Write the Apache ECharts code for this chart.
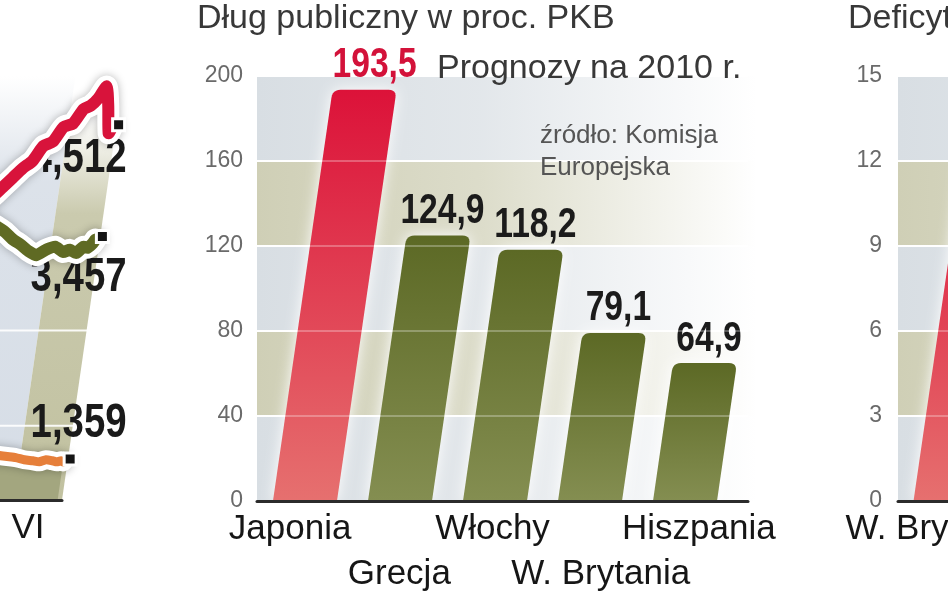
<!DOCTYPE html>
<html><head><meta charset="utf-8">
<script src="https://cdn.jsdelivr.net/npm/echarts@6/dist/echarts.min.js"></script>
<style>html,body{margin:0;padding:0;background:#fff}#c{width:948px;height:593px}</style>
</head><body><div id="c"></div>
<script>
// ---- middle chart: public debt, % of GDP, forecasts for 2010
const debtCountries = ['Japonia', 'Grecja', 'Włochy', 'W. Brytania', 'Hiszpania'];
const debtValues = [193.5, 124.9, 118.2, 79.1, 64.9];
const debtTicks = [0, 40, 80, 120, 160, 200];

// ---- right chart (cropped at the frame edge): deficit, % of GDP
const deficitCountries = ['W. Brytania'];
const deficitValues = [12.9];
const deficitTicks = [0, 3, 6, 9, 12, 15];

// ---- left chart (cropped at the frame edge): three daily series
const leftMonths = ['VI'];
const leftDays = [0, 4, 8, 12, 16, 20, 24, 28, 32, 36, 40, 44, 47, 50, 53, 55, 57, 58];
const redSeries = [3.72, 3.80, 3.86, 3.95, 4.04, 4.13, 4.20, 4.34, 4.38, 4.52, 4.55, 4.69, 4.72, 4.79, 4.90, 4.72, 4.46, 4.512];
const oliveSeries = [3.72, 3.68, 3.63, 3.58, 3.53, 3.46, 3.41, 3.35, 3.31, 3.36, 3.39, 3.34, 3.36, 3.33, 3.39, 3.38, 3.42, 3.457];
const orangeSeries = [1.47, 1.46, 1.45, 1.45, 1.44, 1.43, 1.43, 1.42, 1.41, 1.40, 1.38, 1.37, 1.36, 1.38, 1.37, 1.36, 1.37, 1.359];
const leftGridValues = [1.7, 2.6];

const FONT = 'Liberation Sans';
const SHEAR = 0.145;
const G = echarts.graphic;
// horizontal nudges of the staggered category labels (px, negative = left)
const debtLabelShift = [-16, -5, -10, 0, 0];

function quad(p0, c, p1, n, out) {
  for (let k = 1; k <= n; k++) {
    const t = k / n, a = (1 - t) * (1 - t), b = 2 * (1 - t) * t, d = t * t;
    out.push([a * p0[0] + b * c[0] + d * p1[0], a * p0[1] + b * c[1] + d * p1[1]]);
  }
}
function slantBar(bx, by, ty, hw, r) {
  const h = by - ty, dx = SHEAR * h;
  const tl = [bx - hw + dx, ty], tr = [bx + hw + dx, ty];
  const rr = Math.min(r, h / 2);
  const pts = [[bx - hw, by], [bx + hw, by]];
  const trDown = [tr[0] - SHEAR * rr, ty + rr];
  pts.push(trDown);
  quad(trDown, tr, [tr[0] - rr, ty], 6, pts);
  pts.push([tl[0] + rr, ty]);
  quad([tl[0] + rr, ty], tl, [tl[0] - SHEAR * rr, ty + rr], 6, pts);
  return pts;
}
function fadeGrad(x0, rgb) {
  return new G.LinearGradient(x0, 0, x0 + 500, 0, [
    { offset: 0, color: 'rgba(' + rgb + ',1)' },
    { offset: 0.45, color: 'rgba(' + rgb + ',0.72)' },
    { offset: 1, color: 'rgba(' + rgb + ',0)' }
  ], true);
}
const GREY = '216,222,227', KHAKI = '207,207,182';

// condensed bold numbers: Liberation Sans Bold squeezed horizontally
function narrowText(text, x, y, size, color, align, vAlign) {
  return {
    type: 'text', x: x, y: y, scaleX: 0.8, scaleY: 1,
    style: { text: text, x: 0, y: 0, align: align, verticalAlign: vAlign,
      fontFamily: FONT, fontWeight: 'bold', fontSize: size, fill: color }
  };
}

function bandSeries(xi, yi, ticks) {
  return {
    type: 'custom', xAxisIndex: xi, yAxisIndex: yi, z: 0, silent: true, clip: false,
    data: ticks.slice(0, -1).map(t => [0, t]),
    renderItem: function (params, api) {
      const k = params.dataIndex, cs = params.coordSys;
      const y0 = api.coord([0, ticks[k]])[1], y1 = api.coord([0, ticks[k + 1]])[1];
      return {
        type: 'rect', shape: { x: cs.x, y: y1, width: cs.width + 60, height: y0 - y1 },
        style: { fill: fadeGrad(cs.x, k % 2 ? KHAKI : GREY) }
      };
    }
  };
}
function overlaySeries(xi, yi, ticks) {
  return {
    type: 'custom', xAxisIndex: xi, yAxisIndex: yi, z: 3, silent: true, clip: false,
    data: ticks.slice(1, -1).map(t => [0, t]),
    renderItem: function (params, api) {
      const cs = params.coordSys, y = api.coord([0, api.value(1)])[1];
      return { type: 'line', shape: { x1: cs.x, y1: y, x2: cs.x + cs.width + 60, y2: y },
        style: { stroke: 'rgba(255,255,255,0.28)', lineWidth: 2 } };
    }
  };
}
function barSeries(xi, yi, values, withLabels) {
  return {
    type: 'custom', xAxisIndex: xi, yAxisIndex: yi, z: 2, silent: true, clip: false,
    data: values.map((v, i) => [i, v]),
    renderItem: function (params, api) {
      const i = api.value(0), v = api.value(1);
      const b = api.coord([i, 0]), t = api.coord([i, v]);
      const hi = params.dataIndex === 0;
      const pts = slantBar(b[0], b[1], t[1], 32, 8);
      const fill = hi
        ? new G.LinearGradient(0, 0, 0, 1, [{ offset: 0, color: '#dc1239' }, { offset: 1, color: '#e6706f' }])
        : new G.LinearGradient(0, 0, 0, 1, [{ offset: 0, color: '#5c6925' }, { offset: 1, color: '#848e51' }]);
      const children = [{
        type: 'polygon', shape: { points: pts },
        style: { fill: fill, shadowBlur: 14, shadowColor: 'rgba(255,255,255,1)' }
      }];
      if (withLabels) {
        const topCx = b[0] + SHEAR * (b[1] - t[1]);
        children.push(narrowText(v.toFixed(1).replace('.', ','), topCx + (hi ? 10 : 4), t[1] - 3, 42,
          hi ? '#d3123a' : '#1b1b1b', 'center', 'bottom'));
      }
      return { type: 'group', children: children };
    }
  };
}

// ---- left chart pieces
const leftLines = [
  { vals: orangeSeries, color: '#e67f3a', width: 9, labelDy: -38 },
  { vals: oliveSeries, color: '#5f6a23', width: 12, labelDy: 38 },
  { vals: redSeries, color: '#d8133b', width: 12, labelDy: 31 }
];
function shear(p, y0) { return [p[0] + SHEAR * (y0 - p[1]), p[1]]; }

const leftBackground = {
  type: 'custom', xAxisIndex: 1, yAxisIndex: 0, z: 0, silent: true, clip: false,
  data: [[40, 1]],
  renderItem: function (params, api) {
    const y0 = api.coord([40, 1])[1];
    function col(d0, d1, vTop, rgb) {
      const a = api.coord([d0, 1]), b = api.coord([d1, 1]), c = api.coord([d1, vTop]), d = api.coord([d0, vTop]);
      return {
        type: 'polygon', shape: { points: [shear(a, y0), shear(b, y0), shear(c, y0), shear(d, y0)] },
        style: { fill: new G.LinearGradient(0, 0, 0, 1, [
          { offset: 0, color: 'rgba(' + rgb + ',0)' },
          { offset: 0.25, color: 'rgba(' + rgb + ',0.85)' },
          { offset: 1, color: 'rgba(' + rgb + ',1)' }]) }
      };
    }
    const cs = params.coordSys;
    const children = [col(0, 38, 5, '214,221,230'), col(38, 60, 4.6, '193,193,160')];
    leftGridValues.forEach(g => {
      const y = api.coord([40, g])[1];
      children.push({ type: 'line', shape: { x1: 0, y1: y, x2: cs.x + cs.width + 30, y2: y },
        style: { stroke: 'rgba(255,255,255,0.9)', lineWidth: 2 } });
    });
    return { type: 'group', children: children };
  }
};
const leftLabels = {
  type: 'custom', xAxisIndex: 1, yAxisIndex: 0, z: 1, silent: true, clip: false,
  data: leftLines.map(l => [leftDays[leftDays.length - 1], l.vals[l.vals.length - 1]]),
  renderItem: function (params, api) {
    const p = api.coord([api.value(0), api.value(1)]);
    return narrowText(api.value(1).toFixed(3).replace('.', ','), p[0] + 69,
      p[1] + leftLines[params.dataIndex].labelDy, 48, '#1a1a1a', 'right', 'middle');
  }
};
const leftLineSeries = leftLines.map((l, li) => ({
  type: 'custom', xAxisIndex: 1, yAxisIndex: 0, z: 2 + li * 0.1, silent: true, clip: false,
  data: leftDays.map((d, k) => [d, l.vals[k]]),
  renderItem: function (params, api) {
    if (params.dataIndex !== leftDays.length - 1) return null;
    const y0 = api.coord([40, 1])[1];
    const pts = leftDays.map((d, k) => shear(api.coord([d, l.vals[k]]), y0));
    const end = pts[pts.length - 1];
    const children = [];
    if (li === 0) {
      const area = pts.concat([shear(api.coord([leftDays[leftDays.length - 1], 1]), y0), shear(api.coord([leftDays[0], 1]), y0)]);
      children.push({ type: 'polygon', shape: { points: area }, style: { fill: '#a3a67f' } });
    }
    children.push({ type: 'polyline', shape: { points: pts, smooth: 0.2 },
      style: { stroke: '#ffffff', lineWidth: l.width + 10, fill: null, lineJoin: 'round', lineCap: 'round',
        shadowBlur: 8, shadowColor: 'rgba(0,0,0,0.28)' } });
    children.push({ type: 'polyline', shape: { points: pts, smooth: 0.2 },
      style: { stroke: l.color, lineWidth: l.width, fill: null, lineJoin: 'round', lineCap: 'round' } });
    children.push({ type: 'rect', shape: { x: end[0] + 1, y: end[1] - 9, width: 12, height: 12 },
      style: { fill: '#151515', stroke: '#ffffff', lineWidth: 3 } });
    return { type: 'group', children: children };
  }
}));

const catLabel = {
  interval: 0, fontFamily: FONT, fontSize: 35, color: '#161616', margin: 6, lineHeight: 45
};
const valLabel = { fontFamily: FONT, fontSize: 23, color: '#6a6a6a' };

const chart = echarts.init(document.getElementById('c'));
chart.setOption({
  animation: false,
  backgroundColor: '#ffffff',
  title: [
    { text: 'Dług publiczny w proc. PKB', left: 197, top: 2, padding: 0,
      textStyle: { fontFamily: FONT, fontSize: 34, fontWeight: 'normal', color: '#383838' } },
    { text: 'Prognozy na 2010 r.', left: 437, top: 52, padding: 0,
      textStyle: { fontFamily: FONT, fontSize: 34, fontWeight: 'normal', color: '#383838' } },
    { text: 'źródło: Komisja\nEuropejska', left: 540, top: 120, padding: 0,
      textStyle: { fontFamily: FONT, fontSize: 26, fontWeight: 'normal', color: '#555555', lineHeight: 32 } },
    { text: 'Deficyt budżetowy w proc. PKB', left: 848, top: 2, padding: 0,
      textStyle: { fontFamily: FONT, fontSize: 34, fontWeight: 'normal', color: '#383838' } }
  ],
  grid: [
    { left: 0, right: 886, top: 76, bottom: 93, outerBoundsMode: 'none', containLabel: false },
    { left: 257, right: 200, top: 76, bottom: 92, outerBoundsMode: 'none', containLabel: false },
    { left: 898, right: 0, top: 76, bottom: 92, outerBoundsMode: 'none', containLabel: false }
  ],
  xAxis: [
    { type: 'category', gridIndex: 0, data: leftMonths, z: 10,
      axisLine: { lineStyle: { color: '#2b2b2b', width: 3 } }, axisTick: { show: false },
      axisLabel: Object.assign({}, catLabel, { padding: [0, 6, 0, 0] }) },
    { type: 'value', gridIndex: 0, min: 31.6, max: 60, show: false },
    { type: 'category', gridIndex: 1, z: 10,
      data: debtCountries.map((c, i) => ({ value: c, textStyle: {
        padding: [0, Math.max(0, -2 * debtLabelShift[i]), 0, Math.max(0, 2 * debtLabelShift[i])] } })),
      axisLine: { lineStyle: { color: '#2b2b2b', width: 3 } }, axisTick: { show: false },
      axisLabel: Object.assign({}, catLabel, { formatter: (v, i) => (i % 2 ? '\n' + v : v) }) },
    { type: 'value', gridIndex: 1, min: -0.505, max: 4.663, show: false },
    { type: 'category', gridIndex: 2, data: deficitCountries, z: 10,
      axisLine: { lineStyle: { color: '#2b2b2b', width: 3 } }, axisTick: { show: false },
      axisLabel: Object.assign({}, catLabel, { padding: [0, 0, 0, 24] }) },
    { type: 'value', gridIndex: 2, min: -0.5, max: 0.026, show: false }
  ],
  yAxis: [
    { type: 'value', gridIndex: 0, min: 1, max: 5, show: false },
    { type: 'value', gridIndex: 1, min: 0, max: 200, interval: 40, z: 1,
      axisLine: { show: false }, axisTick: { show: false }, axisLabel: Object.assign({ margin: 14 }, valLabel),
      splitLine: { lineStyle: { color: '#ffffff', width: 2 } } },
    { type: 'value', gridIndex: 2, min: 0, max: 15, interval: 3, z: 1,
      axisLine: { show: false }, axisTick: { show: false }, axisLabel: Object.assign({ margin: 16 }, valLabel),
      splitLine: { lineStyle: { color: '#ffffff', width: 2 } } }
  ],
  series: [
    bandSeries(3, 1, debtTicks),
    bandSeries(5, 2, deficitTicks),
    leftBackground,
    barSeries(3, 1, debtValues, true),
    barSeries(5, 2, deficitValues, false),
    overlaySeries(3, 1, debtTicks),
    overlaySeries(5, 2, deficitTicks),
    leftLabels
  ].concat(leftLineSeries)
});
</script>
</body></html>
